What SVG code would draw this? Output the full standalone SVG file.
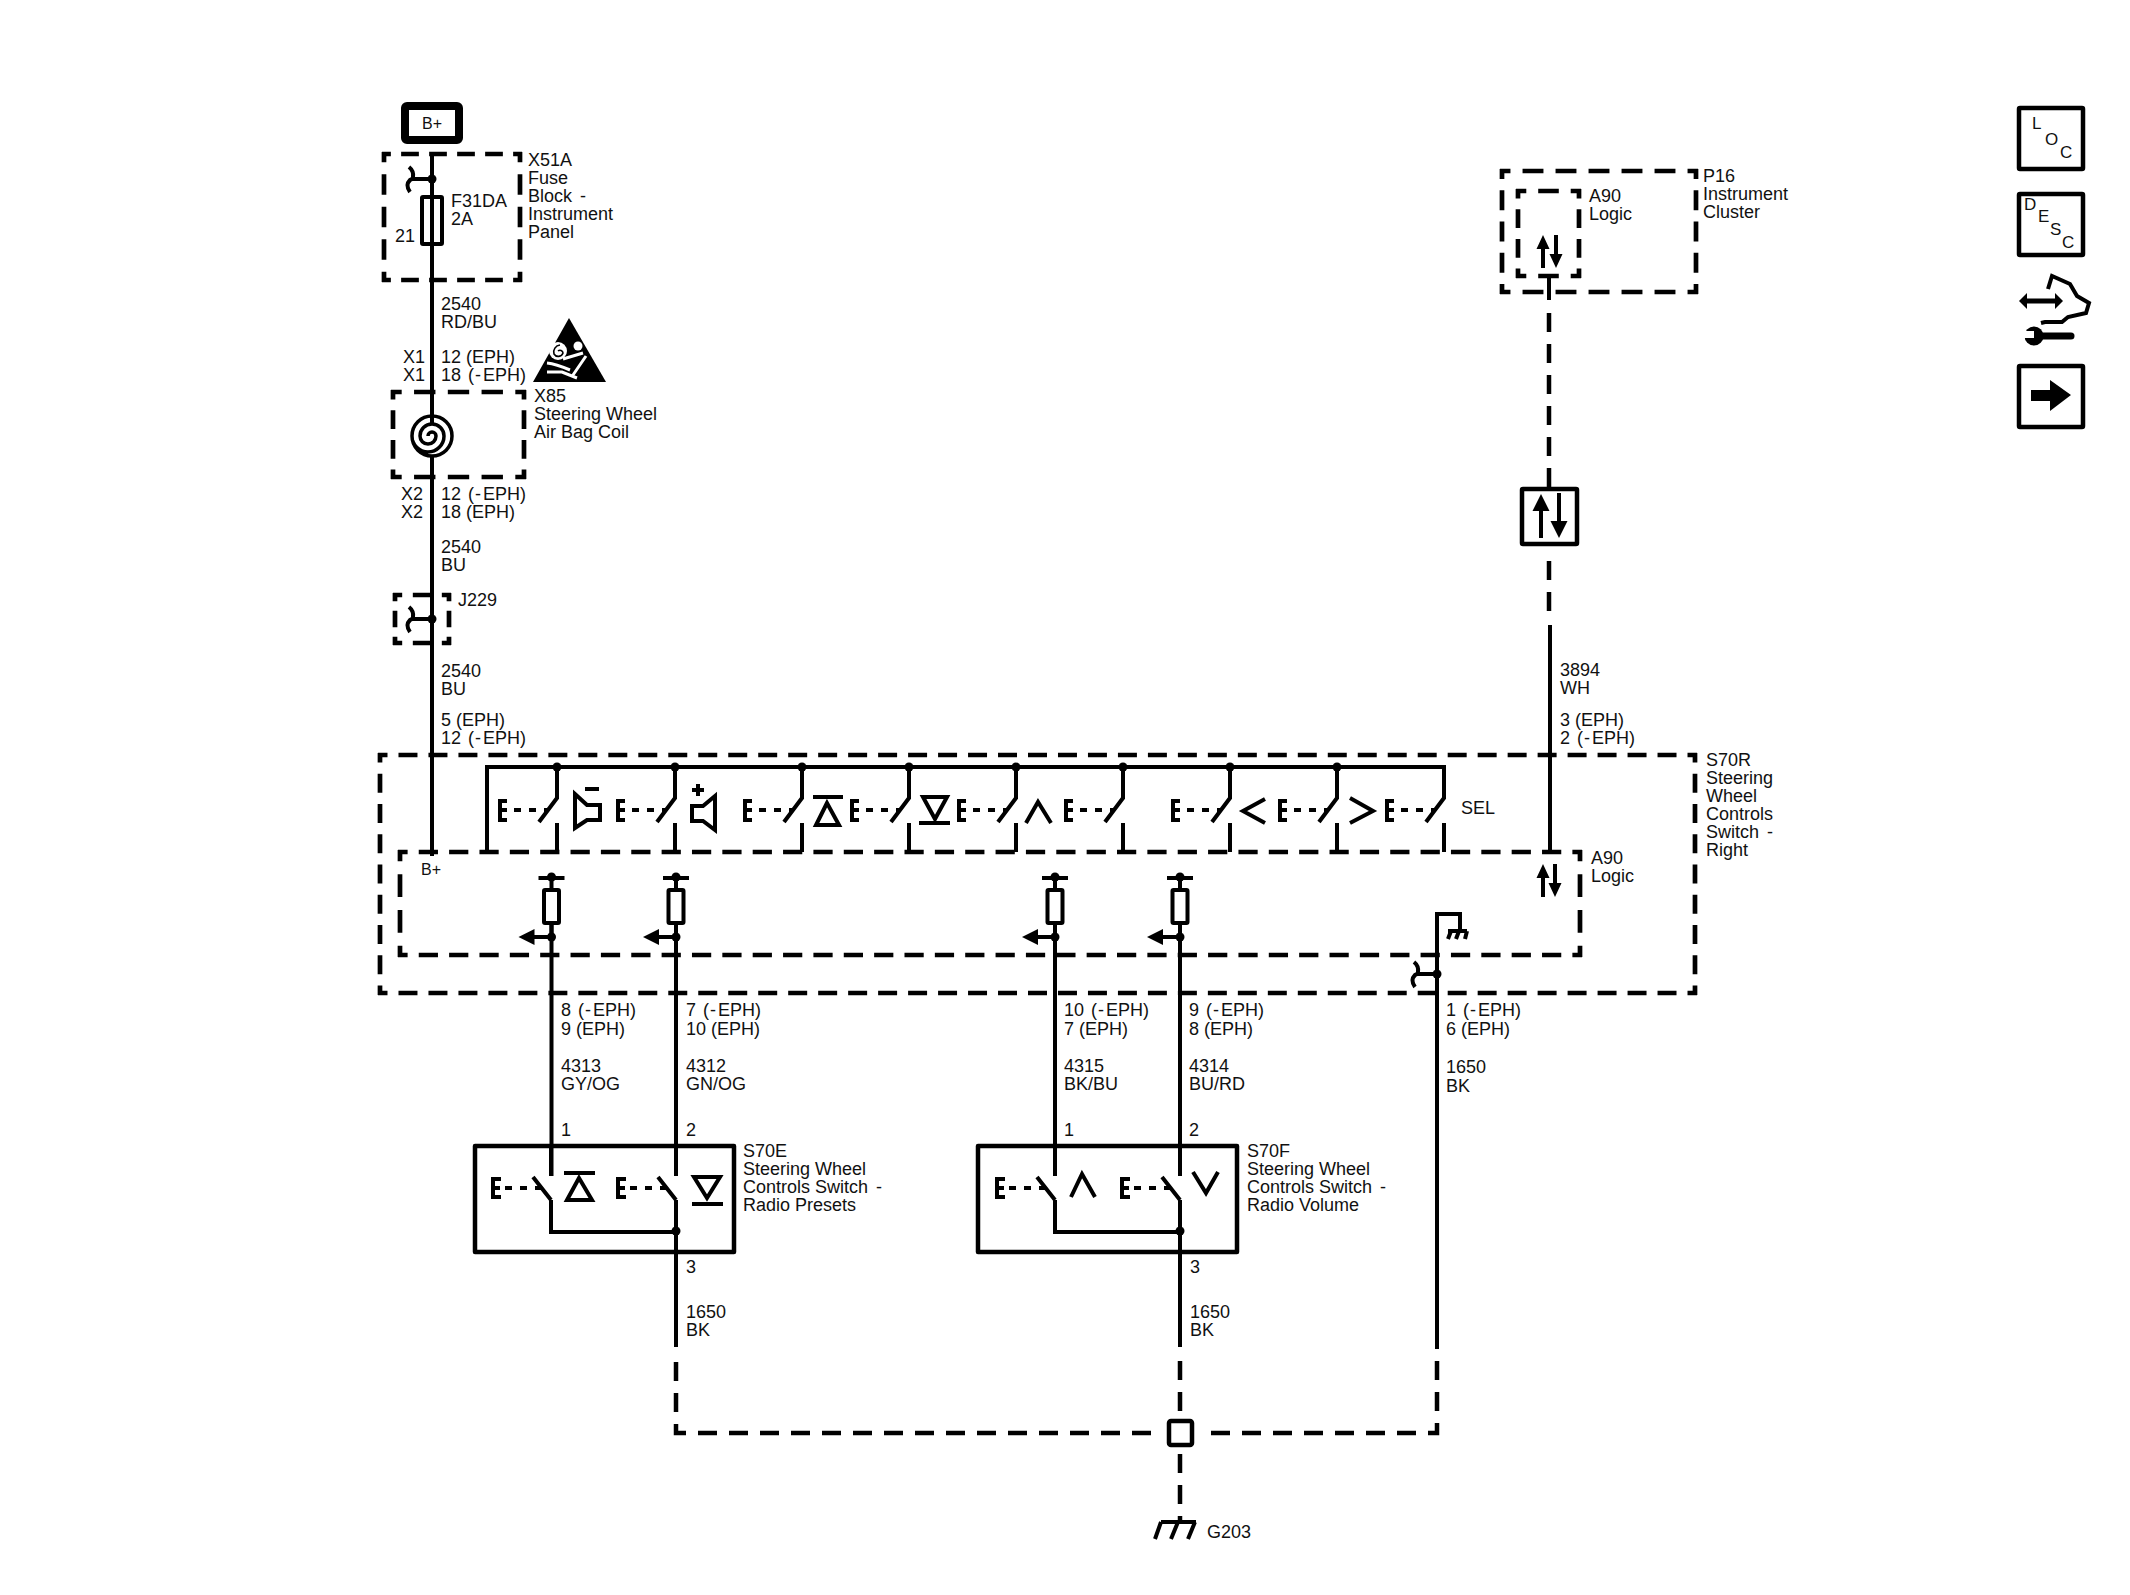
<svg xmlns="http://www.w3.org/2000/svg" xmlns:xlink="http://www.w3.org/1999/xlink" width="2130" height="1595" viewBox="0 0 2130 1595">
<style>
text{font-family:"Liberation Sans",Arial,sans-serif;font-size:18px;fill:#111}
.w{fill:none;stroke:#000;stroke-width:4;stroke-linejoin:miter}
.bd{fill:none;stroke:#000;stroke-width:4.700;stroke-dasharray:19 11;stroke-dashoffset:9.500}
.wd{fill:none;stroke:#000;stroke-width:4.500;stroke-dasharray:19 12}
.box{fill:none;stroke:#000;stroke-width:4.500;stroke-linejoin:round}
.f{fill:#000}
</style>
<defs>
<g id="sw" class="w"><path d="M0 0V31L-18 55M0 56V85M-50 34H-57V53H-50M-57 43H-50"/><path d="M-43 43H-8" stroke-dasharray="7 8"/></g>
<g id="swl" class="w"><path d="M0 -30V0M-18 1L0 24M-50 3H-58V21H-50M-58 12H-51"/><path d="M-46 12H-9" stroke-dasharray="7 8"/></g>
<g id="fuse"><path class="w" d="M-13 878H13M0 878V890M0 923V937"/><circle cy="877" r="4.500" class="f"/><rect x="-7.500" y="890" width="15" height="33" rx="1" class="w"/><circle cy="937" r="4.500" class="f"/><path class="w" d="M0 937H-18"/><path class="f" d="M-17 929V945L-33 937Z"/></g>
<g id="bracket" class="w"><path d="M-23 -12Q-18 -8 -19 -2Q-19 0 -22 1Q-27 6 -22 13"/><path d="M-21 0H0"/></g>
</defs>

<g id="connectors">
<path class="w" d="M432 153V425M432 457V856"/>
<path class="w" d="M551.500 923V1176M676 923V1176M1055 923V1176M1180 923V1176"/>
<path class="w" d="M676 1200V1347M1180 1200V1347"/>
<path class="w" d="M1437 1349V914H1460V931"/>
<path class="w" d="M1549 276V292M1550 625V852"/>
<path class="wd" d="M1549 313V488"/>
<path class="w" d="M1549 292V300"/>
<path class="wd" d="M1549 561V612"/>
<path class="wd" d="M676 1362V1433H1160"/>
<path class="wd" d="M1180 1361V1420"/>
<path class="wd" d="M1180 1454V1522"/>
<path class="wd" d="M1437 1361V1433H1203"/>
</g>

<g id="bplus"><rect x="405" y="106" width="54" height="34" rx="2" fill="none" stroke="#000" stroke-width="8"/><text x="432" y="129" text-anchor="middle" style="font-size:16px">B+</text></g>

<g id="x51a">
<line class="bd" x1="382" y1="154" x2="522" y2="154" pathLength="150"/><line class="bd" x1="382" y1="280" x2="522" y2="280" pathLength="150"/>
<line class="bd" x1="384" y1="152" x2="384" y2="282" pathLength="120"/><line class="bd" x1="520" y1="152" x2="520" y2="282" pathLength="120"/>
<use xlink:href="#bracket" href="#bracket" x="432" y="179"/><circle cx="432" cy="179" r="4.500" class="f"/>
<rect x="422" y="197" width="20" height="47" rx="1" class="w"/>
<text x="528" y="166">X51A</text><text x="528" y="184">Fuse</text><text x="528" y="202">Block <tspan dx="3">-</tspan></text><text x="528" y="220">Instrument</text><text x="528" y="238">Panel</text>
<text x="451" y="207">F31DA</text><text x="451" y="225">2A</text><text x="395" y="242">21</text>
</g>
<g id="w2540a"><text x="441" y="310">2540</text><text x="441" y="328">RD/BU</text><text x="403" y="363">X1</text><text x="403" y="381">X1</text><text x="441" y="363">12 (EPH)</text><text x="441" y="381">18 <tspan dx="2">(</tspan><tspan dx="1">-</tspan><tspan dx="2">EPH)</tspan></text></g>

<g id="airbag-warning">
<path class="f" d="M569 318L533 382H606Z"/>
<circle cx="558" cy="351" r="9" fill="#fff"/><path d="M558 351a3 3 0 0 1 5 2a5 5 0 0 1-9 1a7 7 0 0 1 6-9" fill="none" stroke="#000" stroke-width="1.600"/>
<circle cx="578" cy="346" r="4.500" fill="#fff"/>
<path d="M563 359L583 353M586 356L573 375M547 363Q556 364 570 370M547 372H562L577 378" fill="none" stroke="#fff" stroke-width="3"/>
</g>

<g id="x85">
<line class="bd" x1="391" y1="392" x2="526" y2="392" pathLength="120"/><line class="bd" x1="391" y1="477" x2="526" y2="477" pathLength="120"/>
<line class="bd" x1="393" y1="390" x2="393" y2="479" pathLength="90"/><line class="bd" x1="524" y1="390" x2="524" y2="479" pathLength="90"/>
<path d="M428 436A4 4 0 0 1 436 436A8 8 0 0 1 420 436A12 12 0 0 1 444 436A16 16 0 0 1 412 436A20 20 0 0 1 452 436A20 20 0 0 1 412 436" fill="none" stroke="#000" stroke-width="3.500"/>
<text x="534" y="402">X85</text><text x="534" y="420">Steering Wheel</text><text x="534" y="438">Air Bag Coil</text>
</g>
<g id="w2540b"><text x="401" y="500">X2</text><text x="401" y="518">X2</text><text x="441" y="500">12 <tspan dx="2">(</tspan><tspan dx="1">-</tspan><tspan dx="2">EPH)</tspan></text><text x="441" y="518">18 (EPH)</text><text x="441" y="553">2540</text><text x="441" y="571">BU</text></g>

<g id="j229">
<line class="bd" x1="393" y1="595" x2="451" y2="595" pathLength="60"/><line class="bd" x1="393" y1="643" x2="451" y2="643" pathLength="60"/>
<line class="bd" x1="395" y1="593" x2="395" y2="645" pathLength="60"/><line class="bd" x1="449" y1="593" x2="449" y2="645" pathLength="60"/>
<use xlink:href="#bracket" href="#bracket" x="432" y="619"/><circle cx="432" cy="619" r="4.500" class="f"/>
<text x="458" y="606">J229</text>
</g>
<g id="w2540c"><text x="441" y="677">2540</text><text x="441" y="695">BU</text><text x="441" y="726">5 (EPH)</text><text x="441" y="744">12 <tspan dx="2">(</tspan><tspan dx="1">-</tspan><tspan dx="2">EPH)</tspan></text></g>

<g id="s70r">
<line class="bd" x1="378" y1="755" x2="1697" y2="755" pathLength="1320"/><line class="bd" x1="378" y1="993" x2="1697" y2="993" pathLength="1320"/>
<line class="bd" x1="380" y1="753" x2="380" y2="995" pathLength="240"/><line class="bd" x1="1695" y1="753" x2="1695" y2="995" pathLength="240"/>
<path class="w" d="M487 852V767H1444V798"/>
<use xlink:href="#sw" href="#sw" x="557" y="767"/><use xlink:href="#sw" href="#sw" x="675" y="767"/><use xlink:href="#sw" href="#sw" x="802" y="767"/><use xlink:href="#sw" href="#sw" x="909" y="767"/><use xlink:href="#sw" href="#sw" x="1016" y="767"/><use xlink:href="#sw" href="#sw" x="1123" y="767"/><use xlink:href="#sw" href="#sw" x="1230" y="767"/><use xlink:href="#sw" href="#sw" x="1337" y="767"/><use xlink:href="#sw" href="#sw" x="1444" y="767"/>
<g class="f"><circle cx="557" cy="767" r="4.500"/><circle cx="675" cy="767" r="4.500"/><circle cx="802" cy="767" r="4.500"/><circle cx="909" cy="767" r="4.500"/><circle cx="1016" cy="767" r="4.500"/><circle cx="1123" cy="767" r="4.500"/><circle cx="1230" cy="767" r="4.500"/><circle cx="1337" cy="767" r="4.500"/></g>
<path class="w" d="M585 789H599M575 794L587 805H600V820H587L575 828Z"/>
<path class="w" d="M692 790H704M698 784V796M715 796L703 806H692V821H703L715 830Z"/>
<path class="w" d="M813 797H843M827 803L816 825H839Z"/>
<path class="w" d="M923 797H947L935 819ZM919 823H950"/>
<path class="w" d="M1026 823L1038 802L1051 823"/>
<path class="w" d="M1265 799L1243 811L1265 823"/>
<path class="w" d="M1350 798L1373 811L1350 823"/>
<text x="1461" y="814">SEL</text>
<text x="1706" y="766">S70R</text><text x="1706" y="784">Steering</text><text x="1706" y="802">Wheel</text><text x="1706" y="820">Controls</text><text x="1706" y="838">Switch <tspan dx="3">-</tspan></text><text x="1706" y="856">Right</text>
<use xlink:href="#bracket" href="#bracket" x="1437" y="974"/><circle cx="1437" cy="974" r="4.500" class="f"/>
</g>

<g id="a90-lower">
<line class="bd" x1="398" y1="852" x2="1582" y2="852" pathLength="1170"/><line class="bd" x1="398" y1="955" x2="1582" y2="955" pathLength="1170"/>
<line class="bd" x1="400" y1="850" x2="400" y2="957" pathLength="90"/><line class="bd" x1="1580" y1="850" x2="1580" y2="957" pathLength="90"/>
<text x="421" y="875" style="font-size:16px">B+</text>
<use xlink:href="#fuse" href="#fuse" x="551.500"/><use xlink:href="#fuse" href="#fuse" x="676"/><use xlink:href="#fuse" href="#fuse" x="1055"/><use xlink:href="#fuse" href="#fuse" x="1180"/>
<path class="w" d="M1448 931H1467M1451 931L1448 939M1459 931L1456 939M1467 931L1465 939"/>
<path class="w" d="M1543 877V897M1555 864V884"/><path class="f" d="M1543 864L1536.500 878H1549.500ZM1555 897L1548.500 883H1561.500Z"/>
<text x="1591" y="864">A90</text><text x="1591" y="882">Logic</text>
</g>

<g id="wire-labels">
<text x="561" y="1016">8 <tspan dx="2">(</tspan><tspan dx="1">-</tspan><tspan dx="2">EPH)</tspan></text><text x="561" y="1035">9 (EPH)</text><text x="561" y="1072">4313</text><text x="561" y="1090">GY/OG</text><text x="561" y="1136">1</text>
<text x="686" y="1016">7 <tspan dx="2">(</tspan><tspan dx="1">-</tspan><tspan dx="2">EPH)</tspan></text><text x="686" y="1035">10 (EPH)</text><text x="686" y="1072">4312</text><text x="686" y="1090">GN/OG</text><text x="686" y="1136">2</text>
<text x="1064" y="1016">10 <tspan dx="2">(</tspan><tspan dx="1">-</tspan><tspan dx="2">EPH)</tspan></text><text x="1064" y="1035">7 (EPH)</text><text x="1064" y="1072">4315</text><text x="1064" y="1090">BK/BU</text><text x="1064" y="1136">1</text>
<text x="1189" y="1016">9 <tspan dx="2">(</tspan><tspan dx="1">-</tspan><tspan dx="2">EPH)</tspan></text><text x="1189" y="1035">8 (EPH)</text><text x="1189" y="1072">4314</text><text x="1189" y="1090">BU/RD</text><text x="1189" y="1136">2</text>
<text x="1446" y="1016">1 <tspan dx="2">(</tspan><tspan dx="1">-</tspan><tspan dx="2">EPH)</tspan></text><text x="1446" y="1035">6 (EPH)</text><text x="1446" y="1073">1650</text><text x="1446" y="1092">BK</text>
<text x="1560" y="676">3894</text><text x="1560" y="694">WH</text><text x="1560" y="726">3 (EPH)</text><text x="1560" y="744">2 <tspan dx="2">(</tspan><tspan dx="1">-</tspan><tspan dx="2">EPH)</tspan></text>
</g>

<g id="s70e">
<rect x="475" y="1146" width="259" height="106" class="box"/>
<use xlink:href="#swl" href="#swl" x="551" y="1176"/><use xlink:href="#swl" href="#swl" x="676" y="1176"/>
<path class="w" d="M551 1200V1232H676"/><circle cx="676" cy="1231" r="4.500" class="f"/>
<path class="w" d="M564 1173H595M579 1178L567 1200H592Z"/><path class="w" d="M694 1177H720L707 1198ZM692 1204H723"/>
<text x="743" y="1157">S70E</text><text x="743" y="1175">Steering Wheel</text><text x="743" y="1193">Controls Switch <tspan dx="3">-</tspan></text><text x="743" y="1211">Radio Presets</text>
<text x="686" y="1273">3</text><text x="686" y="1318">1650</text><text x="686" y="1336">BK</text>
</g>

<g id="s70f">
<rect x="978" y="1146" width="259" height="106" class="box"/>
<use xlink:href="#swl" href="#swl" x="1055" y="1176"/><use xlink:href="#swl" href="#swl" x="1180" y="1176"/>
<path class="w" d="M1055 1200V1232H1180"/><circle cx="1180" cy="1231" r="4.500" class="f"/>
<path class="w" d="M1071 1197L1082 1174L1095 1197M1193 1172L1206 1193L1218 1172"/>
<text x="1247" y="1157">S70F</text><text x="1247" y="1175">Steering Wheel</text><text x="1247" y="1193">Controls Switch <tspan dx="3">-</tspan></text><text x="1247" y="1211">Radio Volume</text>
<text x="1190" y="1273">3</text><text x="1190" y="1318">1650</text><text x="1190" y="1336">BK</text>
</g>

<g id="splice"><rect x="1169" y="1421" width="23" height="24" rx="2" class="box"/></g>
<g id="g203"><path class="w" d="M1161 1522H1196M1161 1522L1155 1539M1178 1522L1171 1539M1195 1522L1188 1539"/><text x="1207" y="1538">G203</text></g>

<g id="p16">
<line class="bd" x1="1500" y1="171" x2="1698" y2="171" pathLength="180"/><line class="bd" x1="1500" y1="292" x2="1698" y2="292" pathLength="180"/>
<line class="bd" x1="1502" y1="169" x2="1502" y2="294" pathLength="120"/><line class="bd" x1="1696" y1="169" x2="1696" y2="294" pathLength="120"/>
<text x="1703" y="182">P16</text><text x="1703" y="200">Instrument</text><text x="1703" y="218">Cluster</text>
</g>
<g id="a90-upper">
<line class="bd" x1="1516" y1="191" x2="1581" y2="191" pathLength="60"/><line class="bd" x1="1516" y1="276" x2="1581" y2="276" pathLength="60"/>
<line class="bd" x1="1518" y1="189" x2="1518" y2="278" pathLength="90"/><line class="bd" x1="1579" y1="189" x2="1579" y2="278" pathLength="90"/>
<path class="w" d="M1543 247V268M1556 235V256"/><path class="f" d="M1543 235L1536.500 249H1549.500ZM1556 268L1549.500 254H1562.500Z"/>
<text x="1589" y="202">A90</text><text x="1589" y="220">Logic</text>
</g>
<g id="serial"><rect x="1522" y="489" width="55" height="55" rx="1" class="box"/>
<path class="w" d="M1541 510V538M1559 493V522"/><path class="f" d="M1541 494L1532.500 511H1549.500ZM1559 538L1550.500 521H1567.500Z"/></g>

<g id="loc"><rect x="2019" y="108" width="64" height="61" rx="1" class="box"/><text x="2032" y="129" style="font-size:17px">L</text><text x="2045" y="145" style="font-size:17px">O</text><text x="2060" y="158" style="font-size:17px">C</text></g>
<g id="desc"><rect x="2019" y="194" width="64" height="61" rx="1" class="box"/><text x="2024" y="210" style="font-size:17px">D</text><text x="2038" y="222" style="font-size:17px">E</text><text x="2050" y="235" style="font-size:17px">S</text><text x="2062" y="248" style="font-size:17px">C</text></g>
<g id="repair">
<path class="f" d="M2019 301L2027 293V298.500H2055V293L2063 301L2055 309V303.500H2027V309Z"/>
<path class="w" d="M2048 289L2052 276L2070 284L2077 296L2089 303L2086 313L2068 317L2062 322H2045L2041 323"/>
<path d="M2040 336H2071" stroke="#000" stroke-width="7" stroke-linecap="round"/>
<circle cx="2034" cy="336" r="9.500" class="f"/><path d="M2023 331H2034V338H2023Z" fill="#fff"/>
</g>
<g id="next"><rect x="2019" y="366" width="64" height="61" rx="1" class="box"/><path class="f" d="M2031 390H2050V380L2071 395L2050 411V401H2031Z"/></g>
</svg>
